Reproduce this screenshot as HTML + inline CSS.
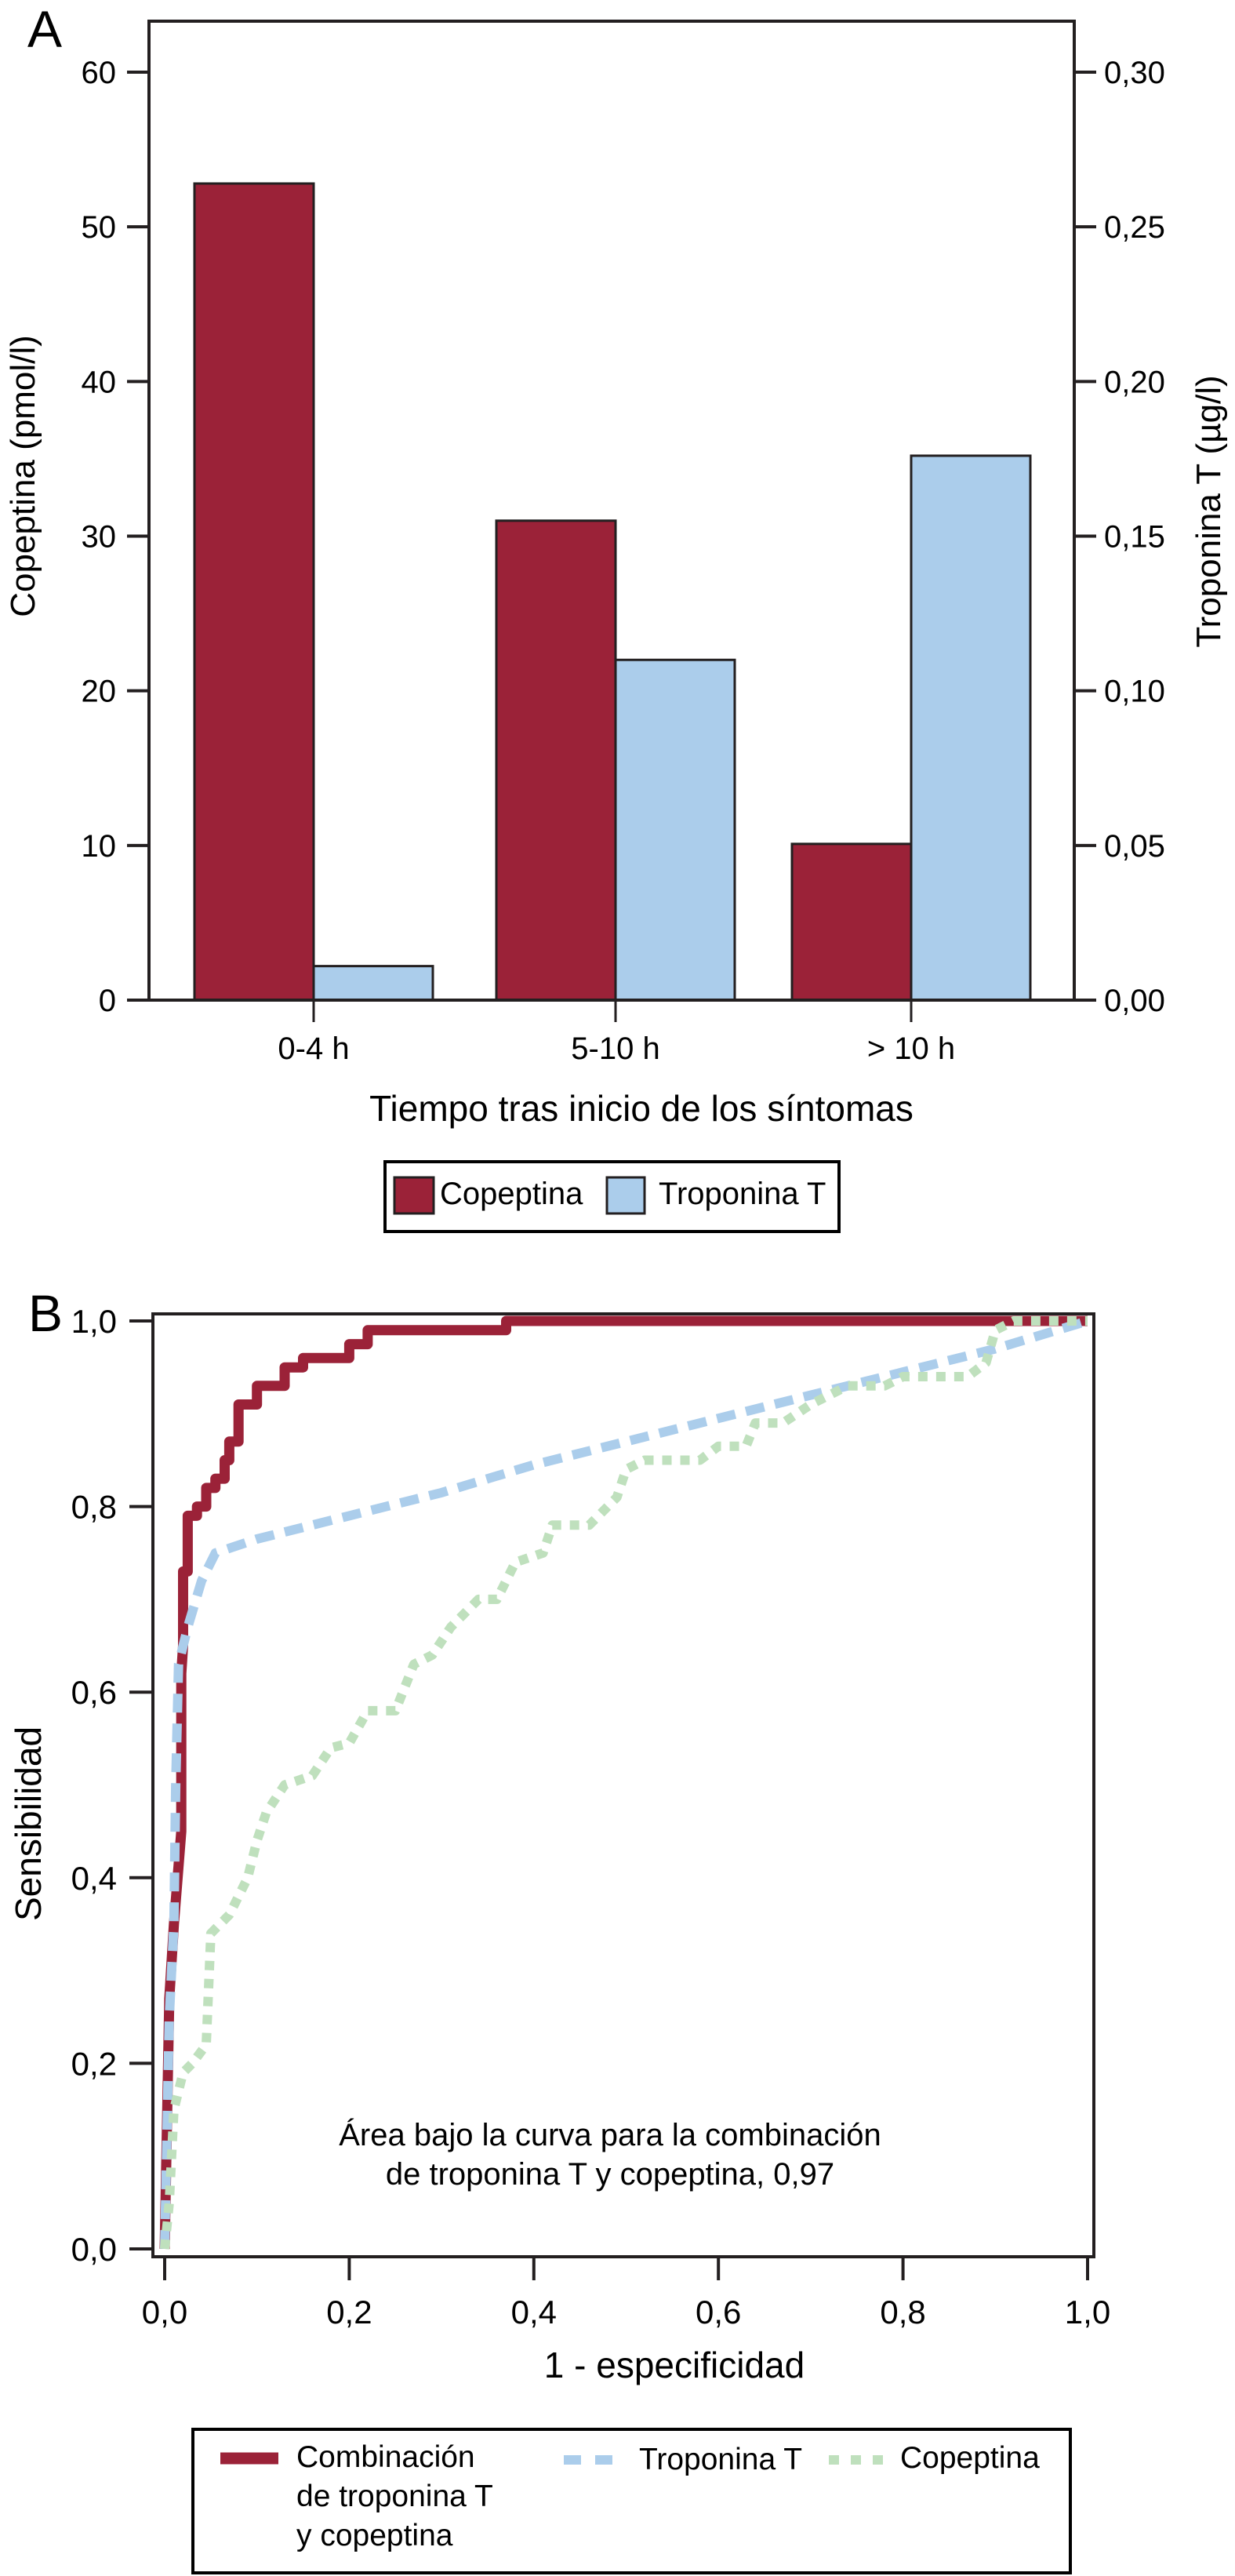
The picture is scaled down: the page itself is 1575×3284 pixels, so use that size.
<!DOCTYPE html>
<html><head><meta charset="utf-8">
<style>
html,body{margin:0;padding:0;background:#fff;}
svg{display:block;font-family:"Liberation Sans",Arial,sans-serif;}
</style></head>
<body>
<svg id="fig" width="1575" height="3284" viewBox="0 0 1575 3284" xmlns="http://www.w3.org/2000/svg">
<g id="chartA"></g>
<g id="chartB"></g>
</svg>
<script>
// ---------- Chart A data ----------
const categoriesA = ["0-4 h", "5-10 h", "> 10 h"];
const copeptinaValues = [52.8, 31.0, 10.1];
const troponinaValues = [0.011, 0.110, 0.176];
const leftTicks = [0, 10, 20, 30, 40, 50, 60];
const rightTicks = ["0,00", "0,05", "0,10", "0,15", "0,20", "0,25", "0,30"];
const rightTickValues = [0, 0.05, 0.10, 0.15, 0.20, 0.25, 0.30];

// ---------- Chart B data ----------
const xTicksB = [0, 0.2, 0.4, 0.6, 0.8, 1.0];
const yTicksB = [0, 0.2, 0.4, 0.6, 0.8, 1.0];
const combFpr = [0,0.005,0.01,0.018,0.018,0.02,0.02,0.025,0.025,0.035,0.035,0.045,0.045,0.055,0.055,0.065,0.065,0.07,0.07,0.08,0.08,0.1,0.1,0.13,0.13,0.15,0.15,0.2,0.2,0.22,0.22,0.37,0.37,1];
const combTpr = [0,0.27,0.35,0.45,0.62,0.65,0.73,0.73,0.79,0.79,0.80,0.80,0.82,0.82,0.83,0.83,0.85,0.85,0.87,0.87,0.91,0.91,0.93,0.93,0.95,0.95,0.96,0.96,0.975,0.975,0.99,0.99,1.0,1.0];
const tropFpr = [0,0.005,0.01,0.012,0.015,0.025,0.04,0.055,0.1,0.2,0.3,0.4,0.5,0.6,0.7,0.8,0.9,1];
const tropTpr = [0,0.25,0.35,0.5,0.63,0.67,0.72,0.75,0.765,0.79,0.815,0.845,0.87,0.895,0.92,0.945,0.97,1];
const copFpr = [0,0.005,0.01,0.02,0.03,0.045,0.05,0.07,0.09,0.1,0.11,0.13,0.16,0.18,0.2,0.22,0.25,0.27,0.29,0.31,0.34,0.36,0.38,0.41,0.42,0.46,0.49,0.5,0.52,0.58,0.6,0.63,0.64,0.67,0.7,0.74,0.78,0.8,0.85,0.87,0.89,0.9,0.92,1];
const copTpr = [0,0.05,0.15,0.19,0.2,0.22,0.34,0.36,0.4,0.44,0.47,0.5,0.51,0.54,0.545,0.58,0.58,0.63,0.64,0.67,0.7,0.7,0.74,0.75,0.78,0.78,0.81,0.84,0.85,0.85,0.865,0.865,0.89,0.89,0.91,0.93,0.93,0.94,0.94,0.94,0.955,0.99,1.0,1.0];

const NS = "http://www.w3.org/2000/svg";
function mk(parent, tag, attrs, text){
  const e = document.createElementNS(NS, tag);
  for (const k in attrs) e.setAttribute(k, attrs[k]);
  if (text !== undefined) e.textContent = text;
  parent.appendChild(e);
  return e;
}
const RED = "#9b2238", BLUE = "#abcdeb", GREEN = "#bfe0bd", INK = "#231f20";

// ================= Chart A =================
(function(){
  const g = document.getElementById("chartA");
  const L = 190, R = 1370, T = 27, B = 1275;
  const yL = v => B - v / 60 * (B - 92);
  const yR = v => B - v / 0.30 * (B - 92);
  const catX = [400, 785, 1162];
  const bw = 152;

  let t = mk(g, "text", {x: 35, y: 60, "font-size": 66}, "A");
  
  

  categoriesA.forEach((c, i) => {
    let r = mk(g, "rect", {x: catX[i] - bw, y: yL(copeptinaValues[i]), width: bw, height: B - yL(copeptinaValues[i]), fill: RED, stroke: INK, "stroke-width": 3});
    
    
    let r2 = mk(g, "rect", {x: catX[i], y: yR(troponinaValues[i]), width: bw, height: B - yR(troponinaValues[i]), fill: BLUE, stroke: INK, "stroke-width": 3});
    
    
    let tk = mk(g, "line", {x1: catX[i], x2: catX[i], y1: B, y2: B + 28, stroke: INK, "stroke-width": 3});
    
    
    let lb = mk(g, "text", {x: catX[i], y: 1350, "font-size": 40, "text-anchor": "middle"}, c);
    
    
  });

  let fr = mk(g, "path", {d: `M${L} ${B} V${T} H${R} V${B}`, fill: "none", stroke: INK, "stroke-width": 4});
  
  
  let base = mk(g, "line", {x1: 162, x2: 1398, y1: B, y2: B, stroke: INK, "stroke-width": 4});
  
  

  leftTicks.forEach(v => {
    let l = mk(g, "line", {x1: 162, x2: L, y1: yL(v), y2: yL(v), stroke: INK, "stroke-width": 4});
    
    
    let s = mk(g, "text", {x: 148, y: yL(v) + 14, "font-size": 40, "text-anchor": "end"}, String(v));
    
    
  });
  rightTickValues.forEach((v, i) => {
    let l = mk(g, "line", {x1: R, x2: 1398, y1: yR(v), y2: yR(v), stroke: INK, "stroke-width": 4});
    
    
    let s = mk(g, "text", {x: 1408, y: yR(v) + 14, "font-size": 40}, rightTicks[i]);
    
    
  });

  let yt = mk(g, "text", {x: 0, y: 0, "font-size": 44, "text-anchor": "middle", transform: "translate(44 607) rotate(-90)"}, "Copeptina (pmol/l)");
  
  
  let yt2 = mk(g, "text", {x: 0, y: 0, "font-size": 44, "text-anchor": "middle", transform: "translate(1556 652) rotate(-90)"}, "Troponina T (µg/l)");
  
  
  let xt = mk(g, "text", {x: 818, y: 1429, "font-size": 46, "text-anchor": "middle"}, "Tiempo tras inicio de los síntomas");
  
  

  let lg = mk(g, "rect", {x: 491, y: 1481, width: 579, height: 89, fill: "none", stroke: "#000", "stroke-width": 4});
  
  
  let s1 = mk(g, "rect", {x: 503, y: 1501, width: 50, height: 46, fill: RED, stroke: INK, "stroke-width": 3});
  
  
  let t1 = mk(g, "text", {x: 561, y: 1535, "font-size": 40}, "Copeptina");
  
  
  let s2 = mk(g, "rect", {x: 774, y: 1501, width: 48, height: 46, fill: BLUE, stroke: INK, "stroke-width": 3});
  
  
  let t2 = mk(g, "text", {x: 840, y: 1535, "font-size": 40}, "Troponina T");
  
  
})();

// ================= Chart B =================
(function(){
  const g = document.getElementById("chartB");
  const L = 195, R = 1395, T = 1675, B = 2877;
  const x = v => 210 + v * 1177;
  const y = v => 2867 - v * 1183;
  const fmt = v => v.toFixed(1).replace(".", ",");

  let t = mk(g, "text", {x: 36, y: 1697, "font-size": 66}, "B");
  
  

  function series(fx, fy, color, dash, w, name){
    const d = fx.map((v, i) => (i ? "L" : "M") + x(v).toFixed(1) + " " + y(fy[i]).toFixed(1)).join(" ");
    const a = {d: d, fill: "none", stroke: color, "stroke-width": w, "stroke-linejoin": "round"};
    if (dash) a["stroke-dasharray"] = dash;
    const p = mk(g, "path", a);
    
    
  }
  series(combFpr, combTpr, RED, null, 13, "combination-roc-line");
  series(tropFpr, tropTpr, BLUE, "24 14", 12, "troponina-roc-line");
  series(copFpr, copTpr, GREEN, "12 11", 12, "copeptina-roc-line");

  let fr = mk(g, "rect", {x: L, y: T, width: R - L, height: B - T, fill: "none", stroke: INK, "stroke-width": 4});
  
  

  yTicksB.forEach(v => {
    let l = mk(g, "line", {x1: 165, x2: L, y1: y(v), y2: y(v), stroke: INK, "stroke-width": 4});
    
    
    let s = mk(g, "text", {x: 149, y: y(v) + 15, "font-size": 42, "text-anchor": "end"}, fmt(v));
    
    
  });
  xTicksB.forEach(v => {
    let l = mk(g, "line", {x1: x(v), x2: x(v), y1: B, y2: 2907, stroke: INK, "stroke-width": 4});
    
    
    let s = mk(g, "text", {x: x(v), y: 2962, "font-size": 42, "text-anchor": "middle"}, fmt(v));
    
    
  });

  let yt = mk(g, "text", {x: 0, y: 0, "font-size": 46, "text-anchor": "middle", transform: "translate(52 2325) rotate(-90)"}, "Sensibilidad");
  
  
  let xt = mk(g, "text", {x: 860, y: 3031, "font-size": 46, "text-anchor": "middle"}, "1 - especificidad");
  
  

  let a1 = mk(g, "text", {x: 778, y: 2735, "font-size": 40, "text-anchor": "middle"}, "Área bajo la curva para la combinación");
  
  
  let a2 = mk(g, "text", {x: 778, y: 2785, "font-size": 40, "text-anchor": "middle"}, "de troponina T y copeptina, 0,97");
  
  

  let lg = mk(g, "rect", {x: 246, y: 3097, width: 1119, height: 183, fill: "none", stroke: "#000", "stroke-width": 4});
  
  
  let l1 = mk(g, "line", {x1: 281, x2: 355, y1: 3134, y2: 3134, stroke: RED, "stroke-width": 15});
  
  
  ["Combinación", "de troponina T", "y copeptina"].forEach((s, i) => {
    let tx = mk(g, "text", {x: 378, y: 3145 + i * 50, "font-size": 39}, s);
    
    
  });
  let l2 = mk(g, "line", {x1: 719, x2: 790, y1: 3136, y2: 3136, stroke: BLUE, "stroke-width": 12, "stroke-dasharray": "22 18"});
  
  
  let t2 = mk(g, "text", {x: 815, y: 3148, "font-size": 39}, "Troponina T");
  
  
  let l3 = mk(g, "line", {x1: 1057, x2: 1127, y1: 3136, y2: 3136, stroke: GREEN, "stroke-width": 12, "stroke-dasharray": "13 15"});
  
  
  let t3 = mk(g, "text", {x: 1148, y: 3146, "font-size": 39}, "Copeptina");
  
  
})();
</script>
</body></html>
